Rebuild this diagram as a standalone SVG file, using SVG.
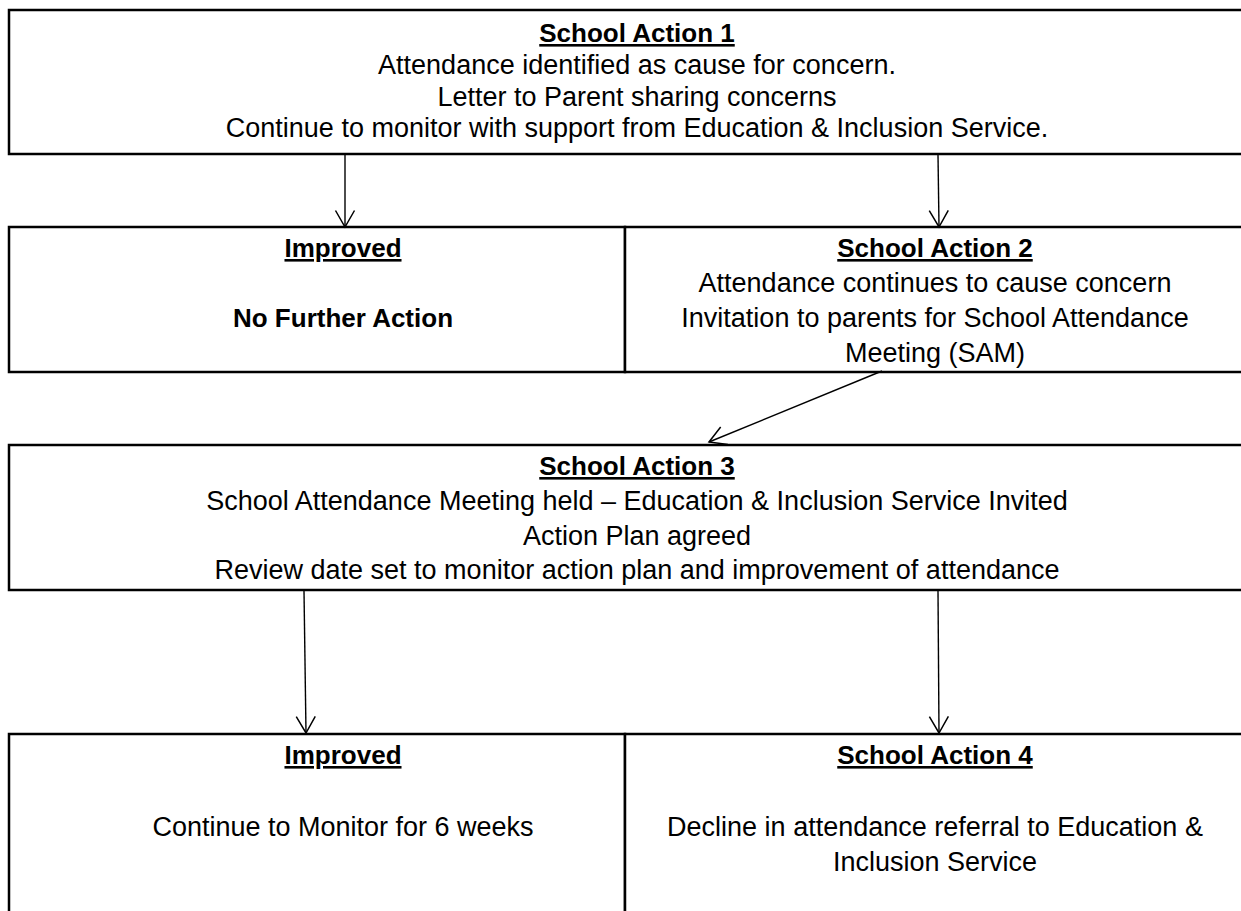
<svg xmlns="http://www.w3.org/2000/svg" width="1241" height="911" viewBox="0 0 1241 911">
<style>
.box{fill:#fff;stroke:#000;stroke-width:2.5}
.t{font-family:"Liberation Sans",Arial,sans-serif;font-size:27px;fill:#000;text-anchor:middle}
.b{font-weight:bold;font-size:26px}
.u{text-decoration:underline}
.c{fill:none;stroke:#000;stroke-width:1.4}
</style>
<defs>
<marker id="ah" markerUnits="userSpaceOnUse" markerWidth="24" markerHeight="24" refX="0" refY="0" viewBox="-20 -12 24 24" orient="auto" overflow="visible">
<path d="M-16.5,-9.5 L0,0 L-16.5,9.5" fill="none" stroke="#000" stroke-width="1.5"/>
</marker>
</defs>
<rect width="1241" height="911" fill="#fff"/>
<g id="action1">
<rect class="box" x="9" y="10" width="1260" height="144"/>
<text class="t b u" x="637" y="42">School Action 1</text>
<text class="t" x="637" y="74">Attendance identified as cause for concern.</text>
<text class="t" x="637" y="106">Letter to Parent sharing concerns</text>
<text class="t" x="637" y="137">Continue to monitor with support from Education &amp; Inclusion Service.</text>
</g>
<g id="improved1">
<rect class="box" x="9" y="227" width="616" height="145"/>
<text class="t b u" x="343" y="257">Improved</text>
<text class="t b" x="343" y="327">No Further Action</text>
</g>
<g id="action2">
<rect class="box" x="625" y="227" width="644" height="145"/>
<text class="t b u" x="935" y="257">School Action 2</text>
<text class="t" x="935" y="292">Attendance continues to cause concern</text>
<text class="t" x="935" y="327">Invitation to parents for School Attendance</text>
<text class="t" x="935" y="362">Meeting (SAM)</text>
</g>
<g id="action3">
<rect class="box" x="9" y="445" width="1260" height="145"/>
<text class="t b u" x="637" y="475">School Action 3</text>
<text class="t" x="637" y="510">School Attendance Meeting held – Education &amp; Inclusion Service Invited</text>
<text class="t" x="637" y="545">Action Plan agreed</text>
<text class="t" x="637" y="579">Review date set to monitor action plan and improvement of attendance</text>
</g>
<g id="improved2">
<rect class="box" x="9" y="734" width="616" height="200"/>
<text class="t b u" x="343" y="764">Improved</text>
<text class="t" x="343" y="836">Continue to Monitor for 6 weeks</text>
</g>
<g id="action4">
<rect class="box" x="625" y="734" width="644" height="200"/>
<text class="t b u" x="935" y="764">School Action 4</text>
<text class="t" x="935" y="836">Decline in attendance referral to Education &amp;</text>
<text class="t" x="935" y="871">Inclusion Service</text>
</g>
<g id="connectors">
<line class="c" x1="345" y1="155" x2="345" y2="227" marker-end="url(#ah)"/>
<line class="c" x1="938" y1="155" x2="939" y2="227" marker-end="url(#ah)"/>
<line class="c" x1="882" y1="371" x2="709" y2="442" stroke-width="1.8" marker-end="url(#ah)"/>
<line class="c" x1="304" y1="591" x2="306" y2="733" marker-end="url(#ah)"/>
<line class="c" x1="938" y1="591" x2="939" y2="733" marker-end="url(#ah)"/>
</g>
</svg>
